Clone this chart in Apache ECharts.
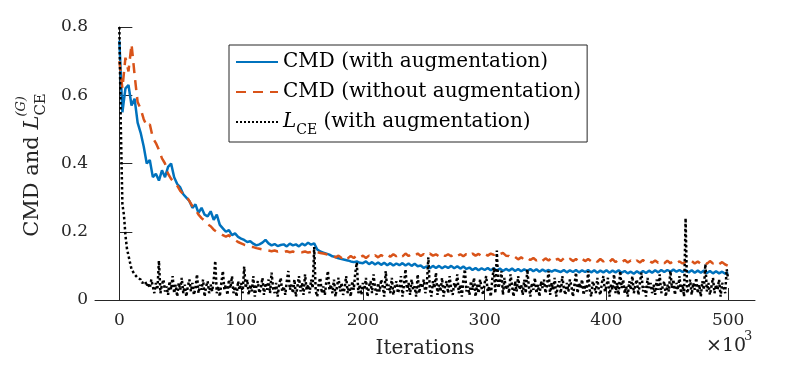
<!DOCTYPE html>
<html>
<head>
<meta charset="utf-8">
<script src="https://cdn.jsdelivr.net/npm/echarts/dist/echarts.min.js"></script>
<style>
  html, body { margin: 0; padding: 0; background: #fff; }
  #chart { width: 789px; height: 366px; }
</style>
</head>
<body>
<div id="chart"></div>
<script>
// x axis in units of 10^3 iterations
const CMD_STEP = 2.5;   // CMD curves sampled every 2.5k
const LCE_STEP = 1.25;  // loss curve sampled every 1.25k
const xTicks = [0, 100, 200, 300, 400, 500];

const cmdWithAug = [
  0.76, 0.55, 0.62, 0.63, 0.57, 0.59, 0.52, 0.49, 0.45, 0.40,
  0.41, 0.36, 0.37, 0.35, 0.38, 0.36, 0.39, 0.40, 0.36, 0.34,
  0.33, 0.31, 0.30, 0.29, 0.27, 0.28, 0.255, 0.27, 0.25, 0.245,
  0.26, 0.235, 0.25, 0.22, 0.21, 0.20, 0.205, 0.19, 0.195, 0.185,
  0.18, 0.176, 0.17, 0.172, 0.165, 0.16, 0.163, 0.168, 0.176, 0.166,
  0.16, 0.164, 0.158, 0.161, 0.163, 0.157, 0.165, 0.16, 0.163, 0.157,
  0.165, 0.16, 0.168, 0.162, 0.166, 0.148, 0.142, 0.139, 0.136, 0.133,
  0.128, 0.126, 0.122, 0.12, 0.118, 0.116, 0.113, 0.111, 0.113, 0.109,
  0.108, 0.113, 0.105, 0.111, 0.104, 0.11, 0.103, 0.109, 0.102, 0.108,
  0.101, 0.107, 0.102, 0.108, 0.101, 0.107, 0.1, 0.106, 0.099, 0.101,
  0.094, 0.099, 0.093, 0.1, 0.094, 0.1, 0.093, 0.099, 0.094, 0.1,
  0.093, 0.099, 0.092, 0.098, 0.091, 0.095, 0.088, 0.094, 0.087, 0.093,
  0.088, 0.094, 0.087, 0.093, 0.086, 0.092, 0.085, 0.091, 0.086, 0.092,
  0.085, 0.091, 0.084, 0.09, 0.085, 0.091, 0.084, 0.09, 0.083, 0.089,
  0.084, 0.088, 0.083, 0.088, 0.085, 0.082, 0.088, 0.081, 0.087, 0.082,
  0.088, 0.081, 0.087, 0.082, 0.088, 0.081, 0.087, 0.08, 0.086, 0.081,
  0.087, 0.08, 0.086, 0.081, 0.087, 0.08, 0.085, 0.078, 0.083, 0.077,
  0.084, 0.078, 0.085, 0.079, 0.086, 0.08, 0.087, 0.081, 0.088, 0.082,
  0.088, 0.083, 0.089, 0.083, 0.088, 0.082, 0.088, 0.081, 0.087, 0.08,
  0.086, 0.08, 0.086, 0.079, 0.085, 0.078, 0.084, 0.078, 0.083, 0.077,
  0.081
];

const cmdNoAug = [
  0.70, 0.62, 0.71, 0.67, 0.75, 0.66, 0.58, 0.56, 0.53, 0.51,
  0.515, 0.475, 0.46, 0.44, 0.415, 0.40, 0.37, 0.355, 0.345, 0.335,
  0.32, 0.31, 0.305, 0.29, 0.275, 0.265, 0.25, 0.24, 0.232, 0.222,
  0.216, 0.206, 0.2, 0.196, 0.19, 0.186, 0.19, 0.18, 0.176, 0.17,
  0.166, 0.162, 0.16, 0.156, 0.155, 0.152, 0.15, 0.148, 0.147, 0.145,
  0.143, 0.145, 0.142, 0.144, 0.141, 0.143, 0.14, 0.142, 0.139, 0.141,
  0.14, 0.142, 0.139, 0.141, 0.143, 0.14, 0.138, 0.136, 0.134, 0.131,
  0.131, 0.125, 0.13, 0.123, 0.13, 0.122, 0.129, 0.123, 0.13, 0.124,
  0.13, 0.123, 0.13, 0.124, 0.131, 0.125, 0.132, 0.126, 0.133, 0.127,
  0.134, 0.128, 0.135, 0.128, 0.136, 0.129, 0.135, 0.13, 0.136, 0.129,
  0.135, 0.129, 0.136, 0.13, 0.134, 0.128, 0.135, 0.129, 0.134, 0.128,
  0.135, 0.129, 0.134, 0.128, 0.135, 0.129, 0.136, 0.13, 0.135, 0.129,
  0.136, 0.13, 0.136, 0.132, 0.139, 0.134, 0.138, 0.13, 0.129, 0.122,
  0.126, 0.119, 0.125, 0.118, 0.124, 0.117, 0.123, 0.116, 0.122, 0.115,
  0.122, 0.116, 0.123, 0.115, 0.121, 0.114, 0.122, 0.115, 0.121, 0.114,
  0.12, 0.113, 0.121, 0.114, 0.12, 0.113, 0.119, 0.112, 0.12, 0.113,
  0.119, 0.112, 0.12, 0.111, 0.118, 0.111, 0.117, 0.11, 0.116, 0.109,
  0.116, 0.11, 0.117, 0.11, 0.115, 0.109, 0.116, 0.109, 0.114, 0.108,
  0.115, 0.108, 0.114, 0.108, 0.113, 0.107, 0.112, 0.106, 0.114, 0.107,
  0.113, 0.106, 0.112, 0.106, 0.114, 0.107, 0.112, 0.105, 0.111, 0.104,
  0.1
];

const lceWithAug = [
  0.80, 0.50, 0.28, 0.25, 0.19, 0.15, 0.13, 0.11, 0.09, 0.085, 0.075, 0.07, 0.065, 0.07, 0.06, 0.05, 0.045, 0.055, 0.04, 0.05,
  0.035, 0.06, 0.04, 0.02, 0.05, 0.03, 0.115, 0.02, 0.045, 0.06, 0.025, 0.04, 0.015, 0.055, 0.03, 0.07, 0.02, 0.045, 0.01, 0.05,
  0.03, 0.065, 0.02, 0.045, 0.01, 0.04, 0.06, 0.025, 0.05, 0.015, 0.035, 0.075, 0.02, 0.045, 0.03, 0.06, 0.01, 0.04, 0.055, 0.02,
  0.045, 0.025, 0.06, 0.115, 0.02, 0.04, 0.01, 0.05, 0.085, 0.03, 0.045, 0.015, 0.06, 0.035, 0.07, 0.02, 0.04, 0.01, 0.055, 0.03,
  0.05, 0.02, 0.098, 0.035, 0.06, 0.015, 0.045, 0.025, 0.07, 0.01, 0.04, 0.055, 0.02, 0.035, 0.065, 0.015, 0.05, 0.03, 0.06, 0.02,
  0.08, 0.035, 0.02, 0.05, 0.01, 0.045, 0.065, 0.025, 0.04, 0.015, 0.055, 0.085, 0.03, 0.045, 0.02, 0.06, 0.01, 0.04, 0.07, 0.025,
  0.05, 0.015, 0.075, 0.03, 0.045, 0.02, 0.06, 0.035, 0.155, 0.025, 0.01, 0.05, 0.065, 0.02, 0.04, 0.015, 0.055, 0.085, 0.03, 0.045,
  0.02, 0.06, 0.01, 0.04, 0.065, 0.025, 0.05, 0.015, 0.035, 0.07, 0.02, 0.045, 0.01, 0.055, 0.03, 0.08, 0.11, 0.02, 0.045, 0.015,
  0.05, 0.03, 0.065, 0.01, 0.04, 0.055, 0.02, 0.075, 0.035, 0.015, 0.05, 0.025, 0.06, 0.04, 0.01, 0.085, 0.03, 0.045, 0.02, 0.065,
  0.015, 0.04, 0.055, 0.02, 0.035, 0.07, 0.01, 0.045, 0.09, 0.025, 0.05, 0.015, 0.06, 0.03, 0.04, 0.01, 0.075, 0.02, 0.05, 0.035,
  0.06, 0.02, 0.045, 0.125, 0.03, 0.01, 0.055, 0.035, 0.08, 0.015, 0.045, 0.025, 0.065, 0.01, 0.04, 0.055, 0.02, 0.07, 0.03, 0.015,
  0.05, 0.035, 0.075, 0.02, 0.045, 0.01, 0.06, 0.09, 0.025, 0.04, 0.015, 0.055, 0.03, 0.065, 0.01, 0.045, 0.02, 0.06, 0.035, 0.015,
  0.05, 0.07, 0.025, 0.04, 0.01, 0.06, 0.095, 0.02, 0.145, 0.035, 0.05, 0.085, 0.015, 0.065, 0.03, 0.045, 0.02, 0.075, 0.04, 0.01,
  0.055, 0.025, 0.07, 0.03, 0.045, 0.015, 0.06, 0.02, 0.09, 0.04, 0.01, 0.05, 0.03, 0.065, 0.02, 0.045, 0.01, 0.055, 0.035, 0.06,
  0.02, 0.045, 0.085, 0.015, 0.05, 0.03, 0.065, 0.01, 0.04, 0.055, 0.02, 0.07, 0.035, 0.015, 0.05, 0.025, 0.06, 0.04, 0.01, 0.045,
  0.08, 0.02, 0.05, 0.035, 0.06, 0.015, 0.045, 0.025, 0.085, 0.03, 0.01, 0.055, 0.04, 0.02, 0.065, 0.03, 0.015, 0.05, 0.07, 0.025,
  0.04, 0.065, 0.01, 0.045, 0.03, 0.075, 0.02, 0.05, 0.015, 0.085, 0.035, 0.06, 0.02, 0.04, 0.01, 0.055, 0.03, 0.07, 0.02, 0.045,
  0.06, 0.015, 0.05, 0.08, 0.025, 0.04, 0.01, 0.065, 0.035, 0.05, 0.02, 0.045, 0.015, 0.06, 0.03, 0.075, 0.02, 0.04, 0.055, 0.01,
  0.045, 0.025, 0.085, 0.035, 0.06, 0.015, 0.05, 0.03, 0.07, 0.02, 0.045, 0.01, 0.24, 0.02, 0.035, 0.06, 0.015, 0.05, 0.03, 0.065,
  0.02, 0.045, 0.01, 0.055, 0.03, 0.105, 0.025, 0.05, 0.015, 0.04, 0.065, 0.02, 0.045, 0.03, 0.06, 0.01, 0.05, 0.035, 0.02, 0.09,
  0.06
];

const names = ['CMD (with augmentation)', 'CMD (without augmentation)', 'LCE (with augmentation)'];

const FONT = '"DejaVu Serif", "Liberation Serif", serif';
const AXIS_COLOR = '#262626';

function toPairs(vals, step) {
  return vals.map((v, i) => [i * step, v]);
}

// measure text so the stacked sub/superscripts land right after the L
const ctx = document.createElement('canvas').getContext('2d');
function textWidth(str, size, italic) {
  ctx.font = (italic ? 'italic ' : '') + size + 'px ' + FONT;
  return ctx.measureText(str).width;
}

const chart = echarts.init(document.getElementById('chart'));

const legendLeft = 229;
const legendTextX = legendLeft + 6 + 42 + 5;
const lW20 = textWidth('L', 20, true);

// y title, centred on the plot's vertical middle
const Y_FS = 21;
const yW1 = textWidth('CMD and ', Y_FS, false);
const yWL = textWidth('L', Y_FS, true);
const yWCE = textWidth('CE', 15, false);
const yStart = 165 + (yW1 + yWL + yWCE) / 2;

const option = {
  animation: false,
  grid: { left: 95, right: 34, top: 27, bottom: 66, outerBoundsMode: 'none' },
  xAxis: {
    type: 'value',
    min: -20,
    max: 522,
    name: 'Iterations',
    nameLocation: 'middle',
    nameGap: 39,
    nameTextStyle: { fontFamily: FONT, fontSize: 20, color: AXIS_COLOR },
    axisLine: { show: true, lineStyle: { color: AXIS_COLOR, width: 1 } },
    axisTick: { inside: true, length: 12, customValues: xTicks, lineStyle: { color: AXIS_COLOR } },
    axisLabel: { customValues: xTicks, fontFamily: FONT, fontSize: 17, color: AXIS_COLOR, margin: 12 },
    splitLine: { show: false }
  },
  yAxis: {
    type: 'value',
    min: 0,
    max: 0.8,
    interval: 0.2,
    axisLine: { show: true, lineStyle: { color: AXIS_COLOR, width: 1 } },
    axisTick: { inside: true, length: 13, lineStyle: { color: AXIS_COLOR } },
    axisLabel: { fontFamily: FONT, fontSize: 17, color: AXIS_COLOR, margin: 7 },
    splitLine: { show: false }
  },
  legend: {
    orient: 'vertical',
    left: legendLeft,
    top: 45,
    padding: [2, 6, 5, 6],
    itemGap: 0,
    itemWidth: 42,
    itemHeight: 14,
    borderColor: AXIS_COLOR,
    borderWidth: 1,
    backgroundColor: '#fff',
    data: names,
    itemStyle: { opacity: 0 },
    textStyle: {
      fontFamily: FONT,
      fontSize: 20,
      color: '#000',
      lineHeight: 30,
      rich: {
        l: { fontFamily: FONT, fontSize: 20, fontStyle: 'italic', lineHeight: 30 },
        s: { fontFamily: FONT, fontSize: 14, lineHeight: 20, verticalAlign: 'bottom' },
        t: { fontFamily: FONT, fontSize: 20, lineHeight: 30 }
      }
    },
    formatter: function (name) {
      if (name === names[2]) return '{l|L}{s|CE}{t| (with augmentation)}';
      return name;
    }
  },
  series: [
    {
      name: names[0],
      type: 'line',
      data: toPairs(cmdWithAug, CMD_STEP),
      symbol: 'none',
      lineStyle: { color: '#0072BD', width: 2.5 },
      itemStyle: { color: '#0072BD' }
    },
    {
      name: names[1],
      type: 'line',
      data: toPairs(cmdNoAug, CMD_STEP),
      symbol: 'none',
      lineStyle: { color: '#D95319', width: 2.5, type: [10, 7] },
      itemStyle: { color: '#D95319' }
    },
    {
      name: names[2],
      type: 'line',
      data: toPairs(lceWithAug, LCE_STEP),
      symbol: 'none',
      lineStyle: { color: '#000', width: 2.5, type: 'dotted' },
      itemStyle: { color: '#000' }
    }
  ],
  graphic: [
    // superscript (G) over the legend's CE
    {
      type: 'text',
      left: legendTextX + lW20 - 1,
      top: 100,
      style: { text: '(G)', font: 'italic 13px ' + FONT, fill: '#000' }
    },
    // x10^3 multiplier
    {
      type: 'text',
      left: 706,
      top: 337,
      style: { text: '×10', font: '19px ' + FONT, fill: AXIS_COLOR }
    },
    {
      type: 'text',
      left: 744,
      top: 330,
      style: { text: '3', font: '13px ' + FONT, fill: AXIS_COLOR }
    },
    // rotated y axis title
    {
      type: 'group',
      x: 33,
      y: yStart,
      rotation: Math.PI / 2,
      children: [
        {
          type: 'text',
          x: 0, y: 0,
          style: { text: 'CMD and ', font: Y_FS + 'px ' + FONT, fill: AXIS_COLOR, verticalAlign: 'middle', align: 'left' }
        },
        {
          type: 'text',
          x: yW1, y: 0,
          style: { text: 'L', font: 'italic ' + Y_FS + 'px ' + FONT, fill: AXIS_COLOR, verticalAlign: 'middle', align: 'left' }
        },
        {
          type: 'text',
          x: yW1 + yWL, y: 8,
          style: { text: 'CE', font: '15px ' + FONT, fill: AXIS_COLOR, verticalAlign: 'middle', align: 'left' }
        },
        {
          type: 'text',
          x: yW1 + yWL - 1, y: -11,
          style: { text: '(G)', font: 'italic 13px ' + FONT, fill: AXIS_COLOR, verticalAlign: 'middle', align: 'left' }
        }
      ]
    }
  ]
};

chart.setOption(option);
</script>
</body>
</html>
